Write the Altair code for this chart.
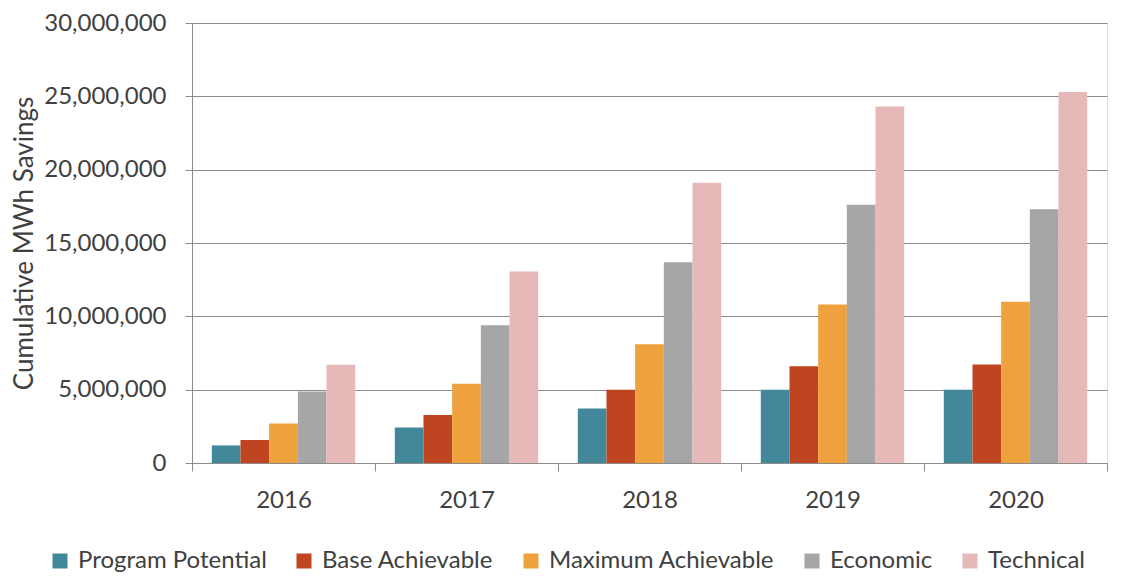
import altair as alt
import pandas as pd

years = ["2016", "2017", "2018", "2019", "2020"]
series = ["Program Potential", "Base Achievable", "Maximum Achievable", "Economic", "Technical"]
colors = ["#43889A", "#BF4520", "#EEA13D", "#A6A6A6", "#E7B8B8"]

program_potential = [1200000, 2420000, 3720000, 5000000, 5000000]
base_achievable = [1570000, 3270000, 5000000, 6600000, 6720000]
maximum_achievable = [2700000, 5400000, 8090000, 10800000, 11000000]
economic = [4880000, 9390000, 13680000, 17600000, 17300000]
technical = [6700000, 13050000, 19100000, 24300000, 25300000]

values = [program_potential, base_achievable, maximum_achievable, economic, technical]
rows = []
for s, vals in zip(series, values):
    for y, v in zip(years, vals):
        rows.append({"Year": y, "Series": s, "Value": v})
df = pd.DataFrame(rows)

FONT = "Lato"
TXT = "#404040"
GRID = "#8C8C8C"

chart = alt.Chart(df).mark_bar().encode(
    x=alt.X("Year:N", sort=years, title=None,
            scale=alt.Scale(paddingInner=0, paddingOuter=0),
            axis=alt.Axis(labelAngle=0, tickBand="extent", labelFontSize=24,
                          labelColor=TXT, labelFont=FONT, labelPadding=17,
                          domainColor=GRID, tickColor=GRID, tickSize=8, grid=False)),
    xOffset=alt.XOffset("Series:N", sort=series,
                        scale=alt.Scale(paddingInner=0, paddingOuter=0.69)),
    y=alt.Y("Value:Q", title="Cumulative MWh Savings",
            scale=alt.Scale(domain=[0, 30000000]),
            axis=alt.Axis(values=[0, 5000000, 10000000, 15000000, 20000000, 25000000, 30000000],
                          format=",d", labelFontSize=24, labelColor=TXT, labelFont=FONT,
                          titleFontSize=26, titleColor=TXT, titleFont=FONT,
                          titleFontWeight="normal", titlePadding=6, labelPadding=19,
                          domainColor=GRID, tickColor=GRID, tickSize=7,
                          gridColor=GRID, gridWidth=1)),
    color=alt.Color("Series:N", sort=series,
                    scale=alt.Scale(domain=series, range=colors),
                    legend=alt.Legend(title=None, orient="none", direction="horizontal",
                                      legendX=-144, legendY=526,
                                      symbolType="square", symbolSize=225,
                                      symbolStrokeWidth=0, labelOffset=6,
                                      labelFontSize=24, labelColor=TXT, labelFont=FONT,
                                      columnPadding=25, labelLimit=400)),
).properties(
    width=915, height=440, padding={"left": 3, "top": 3, "right": 0, "bottom": 0}
).configure_view(stroke=None).configure(background="white")

chart.save("out.html", embed_options={"renderer": "svg", "actions": False})
